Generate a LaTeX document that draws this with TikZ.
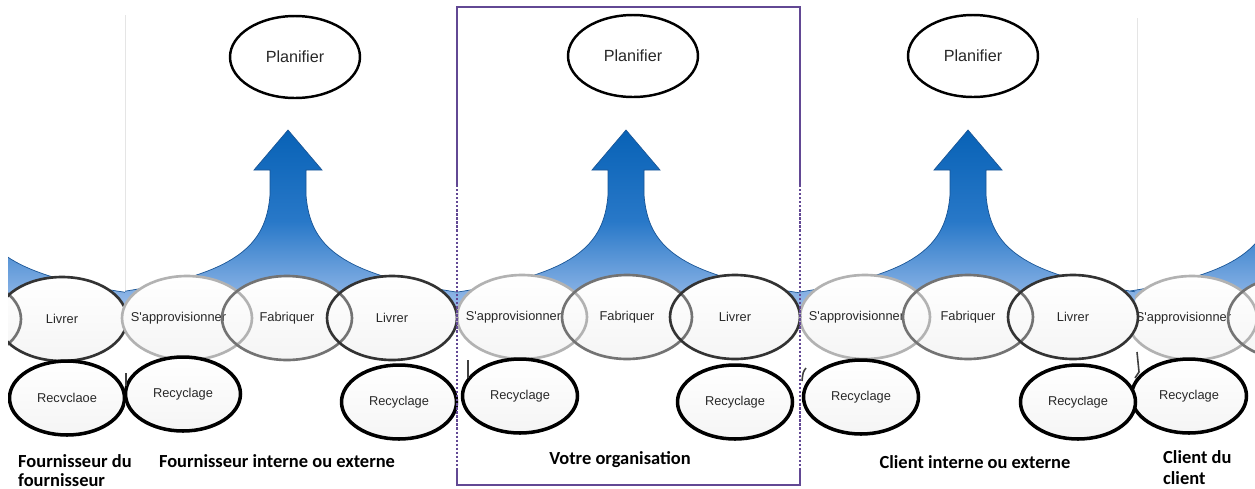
\documentclass[tikz,border=0pt]{standalone}
\usepackage{fontspec}
\setmainfont{Liberation Sans}
\newfontfamily\stagefont{Liberation Sans}
\newfontfamily\capfont{Carlito}
\usetikzlibrary{shapes.geometric}

\definecolor{orgpurple}{RGB}{98,72,148}
\definecolor{flowtop}{RGB}{8,98,182}
\definecolor{flowmid}{RGB}{40,120,200}
\definecolor{flowbot}{RGB}{160,192,236}
\definecolor{flowedge}{RGB}{25,85,150}
\definecolor{txtgray}{RGB}{40,40,40}

\tikzset{
  stage/.style={ellipse, inner sep=0pt, minimum width=2.6cm, minimum height=1.68cm,
     line width=1.5pt, font=\stagefont\fontsize{7.3}{9}\selectfont, text=txtgray},
  supplystage/.style={stage, draw=black!30},
  makestage/.style={stage, draw=black!55},
  shipstage/.style={stage, draw=black!80},
  recstage/.style={stage, draw=black, line width=2pt, top color=white, bottom color=black!4,
     minimum width=2.3cm, minimum height=1.48cm},
  planstage/.style={ellipse, inner sep=0pt, draw=black, line width=1.4pt, fill=white,
     minimum width=2.6cm, minimum height=1.64cm, font=\stagefont\fontsize{9.2}{11}\selectfont, text=txtgray},
  stagefill/.style={top color=white, bottom color=black!4},
  caption/.style={font=\capfont\bfseries\fontsize{10.5}{12}\selectfont, text=black},
  frameline/.style={draw=orgpurple, line width=1.3pt},
  seam/.style={draw=black!10, line width=0.4pt},
  tickmark/.style={draw=black!75, line width=0.9pt},
  flowarrow/.pic={
    \path[top color=flowtop, bottom color=flowbot, middle color=flowmid]
      (0,130) -- (34,170) -- (18,170) -- (18,195)
      .. controls (22,245) and (50,275) .. (175,293) -- (175,312) -- (-175,312) -- (-175,293)
      .. controls (-50,275) and (-22,245) .. (-18,195) -- (-18,170) -- (-34,170) -- cycle;
    \draw[flowedge, line width=0.4pt] (175,293) .. controls (50,275) and (22,245) .. (18,195)
      -- (18,170) -- (34,170) -- (0,130) -- (-34,170) -- (-18,170) -- (-18,195)
      .. controls (-22,245) and (-50,275) .. (-175,293);
  },
}
\newcommand{\supplytext}{\makebox[0pt][c]{S'approvisionner\kern0.34cm\relax}}

\begin{document}
\begin{tikzpicture}[x=0.02cm, y=-0.02cm]
\useasboundingbox (0,0) rectangle (1255,488);
\fill[white] (0,0) rectangle (1255,488);
\draw[seam] (125,15) -- (125,300);
\draw[seam] (1137,18) -- (1137,300);

% left partial panel
\begin{scope}
  \clip (8,0) rectangle (125,488);
  \pic at (-45,0) {flowarrow};
  \fill[stagefill] (-44,319) ellipse [x radius=65, y radius=42];
  \fill[stagefill] (62,319) ellipse [x radius=65, y radius=42];
  \node[makestage] (fabA) at (-44,319) {};
  \node[shipstage] (livA) at (62,319) {Livrer};
  \node[recstage] (recA) at (67,398) {Recvclaoe};
\end{scope}

% right partial panel
\begin{scope}
  \clip (1130,0) rectangle (1255,488);
  \pic at (1292,0) {flowarrow};
  \fill[stagefill] (1192,318) ellipse [x radius=65, y radius=42];
  \fill[stagefill] (1293,318) ellipse [x radius=65, y radius=42];
  \node[supplystage] (supE) at (1192,318) {\supplytext};
  \node[makestage] (fabE) at (1293,318) {};
  \node[recstage] (recE) at (1189,396) {Recyclage};
\end{scope}

% main arrows
\begin{scope}
  \clip (125,0) rectangle (457,488);
  \pic at (288,0) {flowarrow};
\end{scope}
\begin{scope}
  \clip (457,0) rectangle (800,488);
  \pic at (626,0) {flowarrow};
\end{scope}
\begin{scope}
  \clip (800,0) rectangle (1135,488);
  \pic at (968,0) {flowarrow};
\end{scope}

% fills of the process ellipses
\foreach \p in {(187,318),(287,318),(392,318),(522,317),(627,317),(735,317),(865,317),(968,317),(1073,317)}
  \fill[stagefill] \p ellipse [x radius=65, y radius=42];

% process ellipses
\node[supplystage] (supB) at (187,318) {\supplytext};
\node[makestage]   (fabB) at (287,318) {Fabriquer};
\node[shipstage]   (livB) at (392,318) {Livrer};
\node[supplystage] (supC) at (522,317) {\supplytext};
\node[makestage]   (fabC) at (627,317) {Fabriquer};
\node[shipstage]   (livC) at (735,317) {Livrer};
\node[supplystage] (supD) at (865,317) {\supplytext};
\node[makestage]   (fabD) at (968,317) {Fabriquer};
\node[shipstage]   (livD) at (1073,317) {Livrer};

% recycling
\node[recstage] (recB1) at (183,394) {Recyclage};
\node[recstage] (recB2) at (399,402) {Recyclage};
\node[recstage] (recC1) at (520,396) {Recyclage};
\node[recstage] (recC2) at (735,402) {Recyclage};
\node[recstage] (recD1) at (861,397) {Recyclage};
\node[recstage] (recD2) at (1078,402) {Recyclage};

% planning
\node[planstage] (planB) at (295,57) {Planifier};
\node[planstage] (planC) at (633,56) {Planifier};
\node[planstage] (planD) at (973,56) {Planifier};

% small marks
\draw[tickmark] (126,373) -- (126,386);
\draw[tickmark] (468,360) -- (468,378);
\draw[tickmark] (806,368) .. controls (803,372) .. (802,381);
\draw[tickmark] (1137,352) -- (1139,372) -- (1135,378);

% organisation frame
\draw[frameline] (457,185) -- (457,7) -- (800,7) -- (800,185);
\draw[frameline, densely dotted] (457,185) -- (457,470);
\draw[frameline, densely dotted] (800,185) -- (800,470);
\draw[frameline] (457,470) -- (457,485) -- (800,485) -- (800,470);

% captions
\node[caption, anchor=base west] (capA1) at (12,467) {Fournisseur du};
\node[caption, anchor=base west] (capA2) at (12,486) {fournisseur};
\node[caption, anchor=base] (capB) at (277,467) {Fournisseur interne ou externe};
\node[caption, anchor=base] (capC) at (620,464) {Votre organisation};
\node[caption, anchor=base] (capD) at (975,468) {Client interne ou externe};
\node[caption, anchor=base west] (capE1) at (1157,463) {Client du};
\node[caption, anchor=base west] (capE2) at (1157,484) {client};
\end{tikzpicture}
\end{document}
